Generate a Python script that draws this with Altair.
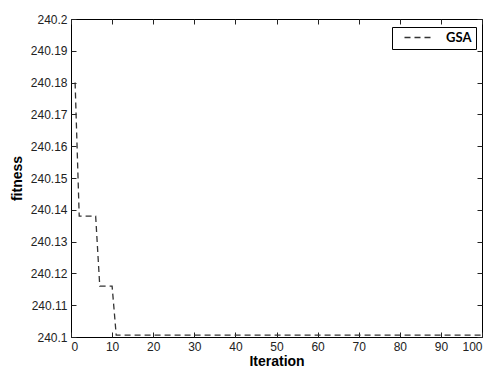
import altair as alt
import pandas as pd

# Best fitness per iteration of the GSA run
iteration = list(range(1, 101))
fitness = [240.18] + [240.138] * 5 + [240.116] * 4 + [240.1006] * 90
series = ["GSA"] * 100

x_ticks = [0, 10, 20, 30, 40, 50, 60, 70, 80, 90, 100]
y_ticks = [240.1, 240.11, 240.12, 240.13, 240.14, 240.15, 240.16, 240.17, 240.18, 240.19, 240.2]

df = pd.DataFrame({"Iteration": iteration, "fitness": fitness, "series": series})

FONT = "Liberation Sans"
INK = "#222222"

x_scale = alt.Scale(domain=[0, 100], nice=False, zero=False)
y_scale = alt.Scale(domain=[240.1, 240.2], nice=False, zero=False)

tick_common = dict(
    domain=False, tickSize=5, offset=-5, tickColor=INK, tickWidth=1, grid=False
)

line = alt.Chart(df).mark_line(
    strokeDash=[6, 4], strokeWidth=1.3, clip=True
).encode(
    x=alt.X("Iteration:Q", scale=x_scale,
            axis=alt.Axis(orient="bottom", values=x_ticks, labelPadding=4,
                          labelFont=FONT, labelFontSize=12, labelColor=INK,
                          title="Iteration", titleFont=FONT, titleFontSize=14,
                          titleFontWeight="bold", titleColor="#000", titlePadding=2,
                          **tick_common)),
    y=alt.Y("fitness:Q", scale=y_scale,
            axis=alt.Axis(orient="left", values=y_ticks, format=".2~f", labelPadding=4,
                          labelFont=FONT, labelFontSize=12, labelColor=INK,
                          title="fitness", titleFont=FONT, titleFontSize=14,
                          titleFontWeight="bold", titleColor="#000", titlePadding=6,
                          **tick_common)),
    color=alt.Color("series:N", scale=alt.Scale(range=["#333333"]),
                    legend=alt.Legend(
                        title=None, orient="none", legendX=321, legendY=8,
                        # long flat dash sample on a short legend row
                        symbolType="M0.4,0H6.4", symbolDash=[6, 4],
                        symbolStrokeWidth=1.3, symbolSize=100,
                        symbolFillColor="transparent",
                        strokeColor="#000", fillColor="white",
                        padding=4, labelFont="Lato", labelFontSize=13,
                        labelFontWeight="bold", labelColor="#000", labelOffset=37,
                        symbolStrokeColor="#333333")),
)

# Mirror ticks on the top and right edges of the frame
mirror = alt.Chart(df).mark_line(opacity=0).encode(
    x=alt.X("Iteration:Q", scale=x_scale,
            axis=alt.Axis(orient="top", values=x_ticks, labels=False, title=None,
                          **tick_common)),
    y=alt.Y("fitness:Q", scale=y_scale,
            axis=alt.Axis(orient="right", values=y_ticks, labels=False, title=None,
                          **tick_common)),
)

chart = alt.layer(line, mirror).resolve_axis(
    x="independent", y="independent"
).properties(
    width=411, height=318,
    autosize=alt.AutoSizeParams(type="none"),
    padding={"left": 71, "top": 19, "right": 12, "bottom": 37},
    background="white",
).configure_view(
    stroke="#000", strokeWidth=1
)

chart.save("out.html", embed_options={"renderer": "svg", "actions": False})
